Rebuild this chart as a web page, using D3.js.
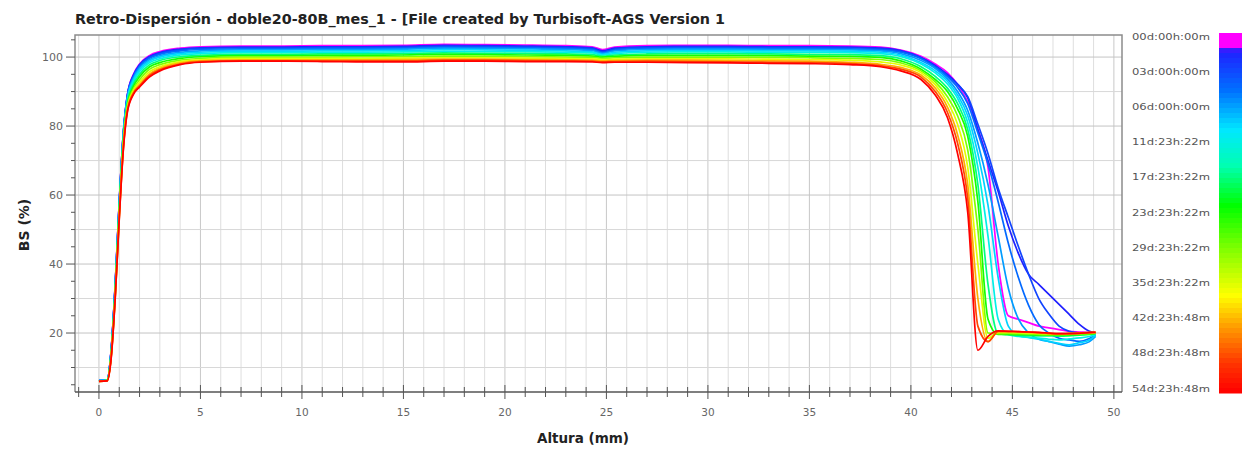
<!DOCTYPE html>
<html>
<head>
<meta charset="utf-8">
<script src="https://cdn.jsdelivr.net/npm/d3@7"></script>
<style>
  body { margin: 0; background: #fff; overflow: hidden; }
  svg { font-family: "DejaVu Sans", Verdana, sans-serif; }
</style>
</head>
<body>
<svg id="chart" width="1249" height="450"></svg>
<script>
// Altura (mm) at which every scan is sampled
const altura = [0, 0.4, 0.6, 0.8, 1.0, 1.2, 1.4, 1.7, 2, 2.5, 3, 4, 5,
  7, 9, 11, 13, 15, 17, 19, 21, 23, 24.3, 24.8, 25.4, 27, 29, 31, 33, 35, 37, 38.5,
  39.5, 40.5, 41.2, 41.8, 42.3, 42.8, 43.3, 43.8, 44.3, 44.8, 45.3, 45.8, 46.3, 46.8, 47.3, 47.8, 48.3, 48.8, 49.1];

// scan times (days)
const tiempos = [0, 1.5, 3, 4.5, 6, 9, 12, 18, 24, 30, 36, 43, 49, 55];

// backscattering (%) per scan
const bs_00d = [6.2, 6.4, 15.0, 34.0, 58.0, 78.0, 89.0, 95.0, 98.0, 100.5, 101.6, 102.6, 103.0,
  103.2, 103.2, 103.3, 103.3, 103.4, 103.7, 103.6, 103.5, 103.3, 103.0, 102.2, 102.9, 103.3, 103.4, 103.4, 103.3, 103.3, 103.2, 102.9,
  102.0, 100.2, 98.0, 95.5, 92.0, 87.0, 79.0, 68.0, 40.0, 25.0, 24.0, 23.0, 22.0, 21.5, 21.0, 20.5, 20.3, 20.1, 20.0];
const bs_01d = [6.2, 6.4, 15.0, 34.0, 58.0, 78.0, 89.0, 94.8, 97.8, 100.2, 101.3, 102.3, 102.7,
  102.9, 102.9, 103.0, 103.0, 103.1, 103.4, 103.3, 103.2, 103.0, 102.7, 101.8, 102.6, 103.0, 103.1, 103.1, 103.0, 103.0, 102.9, 102.6,
  101.9, 99.9, 97.6, 95.0, 92.2, 88.2, 79.0, 70.0, 61.0, 51.0, 43.0, 37.0, 34.1, 31.2, 28.3, 25.4, 22.5, 20.5, 20.0];
const bs_03d = [6.2, 6.4, 14.8, 33.8, 57.8, 77.8, 88.8, 94.6, 97.6, 100.0, 101.1, 102.1, 102.5,
  102.7, 102.7, 102.8, 102.8, 102.9, 103.2, 103.1, 103.0, 102.8, 102.5, 101.5, 102.3, 102.8, 102.9, 102.9, 102.8, 102.8, 102.7, 102.4,
  101.7, 99.8, 97.2, 94.6, 92.0, 88.5, 80.5, 72.0, 62.0, 53.5, 45.0, 37.0, 30.0, 25.5, 22.0, 20.5, 20.0, 19.8, 20.0];
const bs_04d = [6.2, 6.4, 14.8, 33.6, 57.6, 77.6, 88.6, 94.3, 97.3, 99.7, 100.8, 101.8, 102.2,
  102.4, 102.4, 102.5, 102.5, 102.6, 102.9, 102.8, 102.7, 102.5, 102.2, 101.3, 102.0, 102.5, 102.6, 102.6, 102.5, 102.5, 102.4, 102.1,
  101.4, 99.5, 97.0, 94.3, 91.2, 86.5, 78.0, 69.0, 58.0, 46.0, 36.0, 28.0, 22.5, 20.0, 18.5, 18.0, 17.6, 18.4, 19.5];
const bs_06d = [6.2, 6.4, 14.6, 33.4, 57.4, 77.4, 88.3, 93.9, 96.9, 99.3, 100.4, 101.4, 101.8,
  102.1, 102.1, 102.2, 102.2, 102.3, 102.6, 102.5, 102.4, 102.2, 101.9, 101.1, 101.8, 102.2, 102.3, 102.3, 102.2, 102.2, 102.1, 101.8,
  101.0, 99.0, 96.7, 93.7, 90.0, 84.5, 75.0, 63.0, 48.0, 33.0, 24.0, 20.0, 18.2, 17.5, 16.8, 16.2, 16.6, 17.5, 19.0];
const bs_09d = [6.2, 6.4, 14.4, 33.0, 57.0, 77.0, 87.9, 93.4, 96.4, 98.9, 100.0, 101.0, 101.4,
  101.7, 101.7, 101.8, 101.8, 101.9, 102.2, 102.1, 102.0, 101.8, 101.5, 100.8, 101.4, 101.8, 101.9, 101.9, 101.8, 101.8, 101.7, 101.4,
  100.6, 98.4, 96.0, 93.0, 89.0, 83.0, 72.0, 57.0, 36.0, 22.0, 19.3, 18.7, 18.2, 17.6, 17.0, 16.6, 17.2, 18.0, 19.3];
const bs_12d = [6.1, 6.3, 14.2, 32.6, 56.6, 76.6, 87.4, 92.9, 95.8, 98.4, 99.5, 100.6, 101.0,
  101.3, 101.3, 101.4, 101.4, 101.5, 101.7, 101.6, 101.6, 101.4, 101.2, 100.6, 101.0, 101.4, 101.5, 101.5, 101.4, 101.4, 101.3, 101.0,
  100.2, 98.0, 95.4, 92.2, 88.0, 81.0, 68.0, 48.0, 24.0, 19.5, 19.0, 18.7, 18.5, 18.2, 18.0, 18.3, 18.6, 19.0, 19.6];
const bs_18d = [6.1, 6.3, 14.0, 32.2, 56.0, 76.0, 86.8, 92.2, 95.0, 97.8, 99.0, 100.1, 100.5,
  100.8, 100.8, 100.9, 100.9, 101.0, 101.2, 101.1, 101.1, 100.9, 100.7, 100.3, 100.6, 100.9, 101.0, 101.0, 100.9, 100.8, 100.7, 100.4,
  99.5, 97.2, 94.4, 91.0, 86.5, 79.0, 63.0, 34.0, 19.8, 19.5, 19.3, 19.2, 19.2, 19.2, 19.1, 19.2, 19.4, 19.6, 19.8];
const bs_24d = [6.1, 6.3, 13.6, 31.6, 55.4, 75.4, 86.2, 91.5, 94.3, 97.2, 98.4, 99.6, 100.1,
  100.4, 100.4, 100.5, 100.5, 100.6, 100.8, 100.7, 100.6, 100.5, 100.3, 100.0, 100.2, 100.5, 100.5, 100.5, 100.4, 100.3, 100.2, 99.9,
  98.9, 96.5, 93.5, 90.0, 85.0, 77.0, 58.0, 24.0, 19.6, 19.6, 19.5, 19.5, 19.4, 19.4, 19.3, 19.4, 19.5, 19.7, 19.9];
const bs_30d = [6.1, 6.2, 13.4, 31.2, 54.8, 74.8, 85.6, 90.8, 93.4, 96.5, 97.8, 99.1, 99.6,
  100.0, 100.0, 100.0, 100.1, 100.1, 100.3, 100.2, 100.1, 100.0, 99.9, 99.6, 99.8, 100.0, 100.0, 100.0, 99.9, 99.8, 99.6, 99.3,
  98.3, 96.0, 92.8, 88.5, 83.0, 73.0, 50.0, 20.0, 19.8, 19.9, 19.8, 19.7, 19.6, 19.5, 19.5, 19.6, 19.7, 19.8, 20.0];
const bs_36d = [6.0, 6.2, 13.2, 30.8, 54.2, 74.2, 85.2, 90.3, 92.7, 95.8, 97.2, 98.7, 99.2,
  99.6, 99.6, 99.6, 99.6, 99.7, 99.8, 99.8, 99.7, 99.6, 99.5, 99.3, 99.4, 99.5, 99.5, 99.5, 99.4, 99.3, 99.1, 98.6,
  97.7, 95.5, 92.0, 87.0, 80.5, 68.0, 40.0, 18.5, 20.2, 20.2, 20.1, 20.0, 19.9, 19.8, 19.7, 19.8, 19.9, 20.0, 20.1];
const bs_43d = [6.0, 6.1, 13.0, 30.5, 53.6, 73.6, 84.8, 89.8, 92.0, 95.1, 96.7, 98.3, 98.9,
  99.2, 99.2, 99.2, 99.2, 99.3, 99.4, 99.4, 99.3, 99.2, 99.1, 98.9, 99.0, 99.1, 99.1, 99.0, 98.9, 98.8, 98.5, 97.9,
  97.0, 94.8, 91.0, 85.5, 77.5, 63.0, 30.0, 17.5, 20.4, 20.4, 20.3, 20.2, 20.0, 19.8, 19.7, 19.8, 19.9, 20.1, 20.2];
const bs_49d = [6.0, 6.1, 12.8, 30.2, 53.3, 73.3, 84.4, 89.5, 91.6, 94.7, 96.3, 98.0, 98.7,
  98.9, 98.9, 98.9, 98.9, 98.9, 99.1, 99.1, 99.0, 98.9, 98.8, 98.6, 98.7, 98.8, 98.7, 98.6, 98.5, 98.4, 98.1, 97.5,
  96.5, 94.2, 90.0, 84.0, 75.0, 59.0, 22.0, 17.5, 20.5, 20.5, 20.4, 20.3, 20.1, 19.9, 19.8, 19.9, 20.0, 20.2, 20.3];
const bs_55d = [6.0, 6.1, 12.5, 30.0, 53.0, 73.0, 84.0, 89.2, 91.3, 94.3, 96.0, 97.8, 98.5,
  98.8, 98.8, 98.7, 98.6, 98.6, 98.8, 98.8, 98.7, 98.7, 98.6, 98.4, 98.5, 98.5, 98.4, 98.3, 98.2, 98.1, 97.8, 97.2,
  96.0, 93.5, 89.0, 82.5, 72.0, 55.0, 15.0, 19.0, 20.6, 20.5, 20.4, 20.3, 20.2, 20.0, 19.8, 19.8, 19.9, 20.1, 20.2];

const series = [bs_00d, bs_01d, bs_03d, bs_04d, bs_06d, bs_09d, bs_12d,
  bs_18d, bs_24d, bs_30d, bs_36d, bs_43d, bs_49d, bs_55d];

// legend
const etiquetasTiempo = ["00d:00h:00m", "03d:00h:00m", "06d:00h:00m", "11d:23h:22m", "17d:23h:22m",
  "23d:23h:22m", "29d:23h:22m", "35d:23h:22m", "42d:23h:48m", "48d:23h:48m", "54d:23h:48m"];
const diasEtiqueta = [0, 3, 6, 11.97, 17.97, 23.97, 29.97, 35.97, 42.99, 48.99, 54.99];
const barraStops = [0, 0.035, 0.05, 0.16, 0.27, 0.37, 0.48, 0.6, 0.73, 0.82, 0.92, 1];
const barraColores = ["#ff00ff", "#ff00ff", "#2020ff", "#0070ff", "#00e8ff", "#00ffb0",
  "#00ff00", "#80ff00", "#ffff00", "#ff9900", "#ff3300", "#ff0000"];

const xTicks = [0, 5, 10, 15, 20, 25, 30, 35, 40, 45, 50];
const yTicks = [20, 40, 60, 80, 100];

(function () {
  const svg = d3.select('#chart');
  const left = 75, right = 1122, top = 35, bottom = 392;

  const x = d3.scaleLinear().domain([-1.18, 50.4]).range([left, right]);
  const y = d3.scaleLinear().domain([2.9, 106.4]).range([bottom, top]);

  // grid
  const grid = svg.append('g');
  grid.selectAll('line.v')
    .data(d3.range(-1, 51))
    .join('line')
      .attr('x1', d => x(d)).attr('x2', d => x(d))
      .attr('y1', top).attr('y2', bottom)
      .attr('stroke', d => d % 5 === 0 ? '#c8c8c8' : '#dedede')
      .attr('stroke-width', 1);
  grid.selectAll('line.h')
    .data(d3.range(10, 101, 10))
    .join('line')
      .attr('x1', left).attr('x2', right)
      .attr('y1', d => y(d)).attr('y2', d => y(d))
      .attr('stroke', d => d % 20 === 0 ? '#c4c4c4' : '#d8d8d8')
      .attr('stroke-width', 1);

  // colours
  const legendPos = d3.scaleLinear()
    .domain(diasEtiqueta)
    .range(diasEtiqueta.map((d, i) => i / (diasEtiqueta.length - 1)));
  const barColor = d3.scaleLinear().domain(barraStops).range(barraColores);

  // curves
  const line = d3.line()
    .x((d, i) => x(altura[i]))
    .y(d => y(d))
    .curve(d3.curveMonotoneX);

  svg.append('g')
    .selectAll('path')
    .data(series)
    .join('path')
      .attr('d', line)
      .attr('fill', 'none')
      .attr('stroke', (d, i) => barColor(legendPos(tiempos[i])))
      .attr('stroke-width', 1.7)
      .attr('stroke-linejoin', 'round');

  // frame
  svg.append('path')
    .attr('d', `M${left},${bottom}V${top}H${right}V${bottom}`)
    .attr('fill', 'none')
    .attr('stroke', '#8c8c8c')
    .attr('stroke-width', 1.5);

  // x axis
  const xa = svg.append('g');
  xa.append('line')
    .attr('x1', left).attr('x2', right)
    .attr('y1', bottom).attr('y2', bottom)
    .attr('stroke', '#555').attr('stroke-width', 1.5);
  xa.selectAll('line.t')
    .data(d3.range(-1, 51))
    .join('line')
      .attr('x1', d => x(d)).attr('x2', d => x(d))
      .attr('y1', d => bottom - (d % 5 === 0 ? 7 : 5))
      .attr('y2', d => bottom + (d % 5 === 0 ? 7 : 5))
      .attr('stroke', '#555').attr('stroke-width', 1);
  xa.selectAll('text')
    .data(xTicks)
    .join('text')
      .attr('x', d => x(d))
      .attr('y', 416)
      .attr('text-anchor', 'middle')
      .attr('font-size', 10.5)
      .attr('fill', '#666')
      .text(d => d);

  // y axis
  const ya = svg.append('g');
  ya.selectAll('line')
    .data(d3.range(5, 106, 5))
    .join('line')
      .attr('x1', d => left - (d % 20 === 0 ? 9 : 4)).attr('x2', left)
      .attr('y1', d => y(d)).attr('y2', d => y(d))
      .attr('stroke', '#555').attr('stroke-width', 1);
  ya.selectAll('text')
    .data(yTicks)
    .join('text')
      .attr('x', 63)
      .attr('y', d => y(d) + 4)
      .attr('text-anchor', 'end')
      .attr('font-size', 11)
      .attr('fill', '#666')
      .text(d => d);

  // titles
  svg.append('text')
    .attr('x', 75).attr('y', 24)
    .attr('font-size', 14.3).attr('font-weight', 'bold').attr('fill', '#222')
    .text('Retro-Dispersión - doble20-80B_mes_1 - [File created by Turbisoft-AGS Version 1');
  svg.append('text')
    .attr('x', 583).attr('y', 443)
    .attr('text-anchor', 'middle')
    .attr('font-size', 13.5).attr('font-weight', 'bold').attr('fill', '#222')
    .text('Altura (mm)');
  svg.append('text')
    .attr('transform', 'translate(29,225) rotate(-90)')
    .attr('text-anchor', 'middle')
    .attr('font-size', 14).attr('font-weight', 'bold').attr('fill', '#222')
    .text('BS (%)');

  // legend
  const barTop = 33, barBottom = 393, barX = 1219, barW = 23;
  const bands = d3.range(72);
  const bandH = (barBottom - barTop) / bands.length;
  svg.append('g')
    .selectAll('rect')
    .data(bands)
    .join('rect')
      .attr('x', barX)
      .attr('y', d => barTop + d * bandH)
      .attr('width', barW)
      .attr('height', bandH + 0.5)
      .attr('fill', d => barColor((d + 0.5) / bands.length));

  const ly = d3.scalePoint().domain(etiquetasTiempo).range([36, 388]);
  svg.append('g')
    .selectAll('text')
    .data(etiquetasTiempo)
    .join('text')
      .attr('x', 1132)
      .attr('y', d => ly(d) + 3.5)
      .attr('font-size', 9.5)
      .attr('fill', '#555')
      .attr('textLength', 78)
      .attr('lengthAdjust', 'spacingAndGlyphs')
      .text(d => d);
})();
</script>
</body>
</html>
